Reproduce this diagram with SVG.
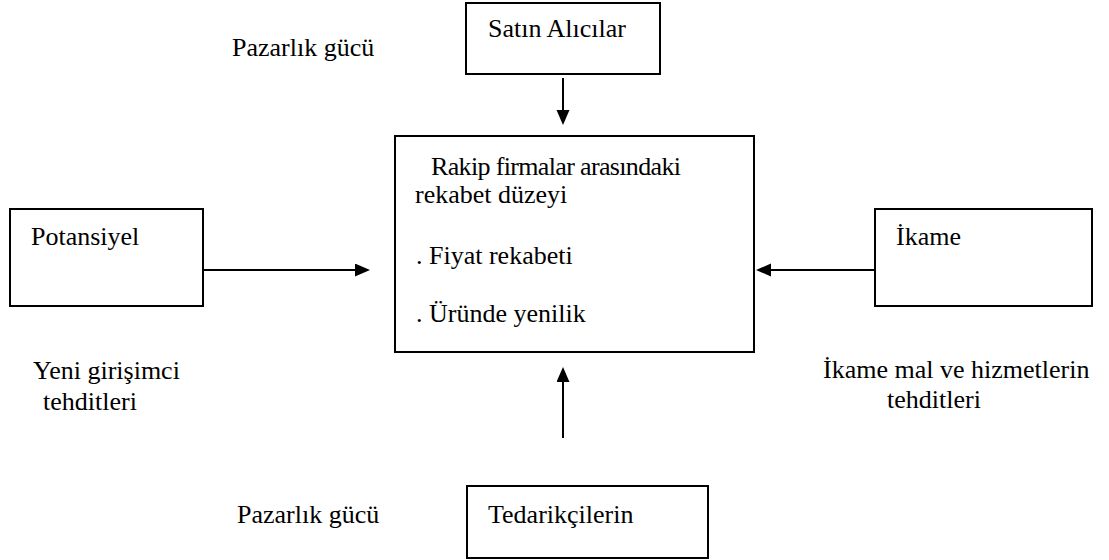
<svg xmlns="http://www.w3.org/2000/svg" width="1109" height="560" viewBox="0 0 1109 560">
  <defs>
    <marker id="arrow" markerUnits="userSpaceOnUse" markerWidth="16" markerHeight="14" refX="7" refY="6.5" orient="auto">
      <path d="M0,0 L15,6.5 L0,13 Z" fill="#000"/>
    </marker>
  </defs>
  <rect width="1109" height="560" fill="#fff"/>

  <g id="buyers">
    <rect x="466" y="3" width="194" height="71" fill="#fff" stroke="#000" stroke-width="2"/>
    <text x="488" y="37" font-family="'Liberation Serif', serif" font-size="26">Satın Alıcılar</text>
  </g>

  <g id="rivalry">
    <rect x="395" y="136" width="359" height="216" fill="#fff" stroke="#000" stroke-width="2"/>
    <text x="431" y="175" font-family="'Liberation Serif', serif" font-size="26" textLength="250">Rakip firmalar arasındaki</text>
    <text x="415" y="203" font-family="'Liberation Serif', serif" font-size="26">rekabet düzeyi</text>
    <text x="416" y="264" font-family="'Liberation Serif', serif" font-size="26">. Fiyat rekabeti</text>
    <text x="416" y="322" font-family="'Liberation Serif', serif" font-size="26">. Üründe yenilik</text>
  </g>

  <g id="entrants">
    <rect x="10" y="209" width="193" height="97" fill="#fff" stroke="#000" stroke-width="2"/>
    <text x="31" y="245" font-family="'Liberation Serif', serif" font-size="26">Potansiyel</text>
  </g>

  <g id="substitutes">
    <rect x="875" y="209" width="217" height="97" fill="#fff" stroke="#000" stroke-width="2"/>
    <text x="896" y="245" font-family="'Liberation Serif', serif" font-size="26">İkame</text>
  </g>

  <g id="suppliers">
    <rect x="467" y="486" width="241" height="72" fill="#fff" stroke="#000" stroke-width="2"/>
    <text x="488" y="523" font-family="'Liberation Serif', serif" font-size="26">Tedarikçilerin</text>
  </g>

  <!-- free-standing captions -->
  <g id="captions">
    <text x="232" y="56" font-family="'Liberation Serif', serif" font-size="26">Pazarlık gücü</text>
    <text x="33" y="379" font-family="'Liberation Serif', serif" font-size="26">Yeni girişimci</text>
    <text x="43" y="410" font-family="'Liberation Serif', serif" font-size="26">tehditleri</text>
    <text x="823" y="378" font-family="'Liberation Serif', serif" font-size="26">İkame mal ve hizmetlerin</text>
    <text x="887" y="408" font-family="'Liberation Serif', serif" font-size="26">tehditleri</text>
    <text x="237" y="523" font-family="'Liberation Serif', serif" font-size="26">Pazarlık gücü</text>
  </g>

  <g id="connectors" stroke="#000" stroke-width="2" fill="none">
    <line x1="563" y1="78" x2="563" y2="117" marker-end="url(#arrow)"/>
    <line x1="203" y1="270" x2="362" y2="270" marker-end="url(#arrow)"/>
    <line x1="875" y1="270" x2="764" y2="270" marker-end="url(#arrow)"/>
    <line x1="563" y1="438" x2="563" y2="375" marker-end="url(#arrow)"/>
  </g>
</svg>
